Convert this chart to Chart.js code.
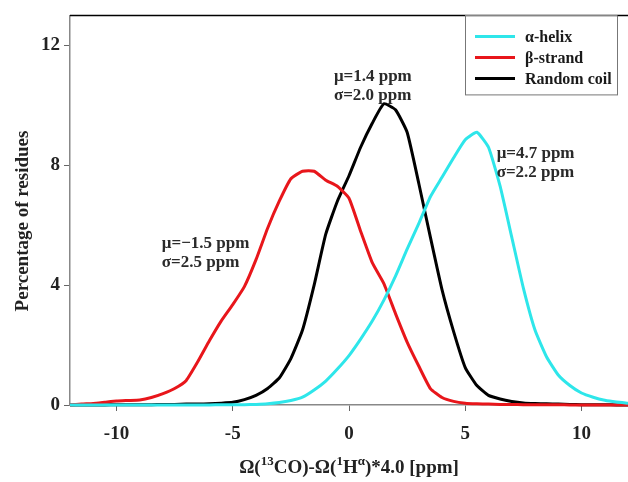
<!DOCTYPE html>
<html lang="en">
<head>
    <meta charset="UTF-8">
    <title>Chemical shift distributions</title>
    <script src="https://cdn.jsdelivr.net/npm/chart.js"></script>
    <style> body { margin: 0; background: #fff; } canvas { display: block; } </style>
</head>
<body>
    <canvas id="shiftChart" width="628" height="482"></canvas>

    <script>
        // x positions in ppm (0.5 ppm steps)
        const shifts = [-12, -11.5, -11, -10.5, -10, -9.5, -9, -8.5, -8, -7.5, -7, -6.5, -6, -5.5, -5, -4.5, -4, -3.5, -3, -2.5, -2, -1.5, -1, -0.5, 0,
                        0.5, 1, 1.5, 2, 2.5, 3, 3.5, 4, 4.5, 5, 5.5, 6, 6.5, 7, 7.5, 8, 8.5, 9, 9.5, 10, 10.5, 11, 11.5, 12];

        const helix = [0, 0, 0, 0, 0, 0, 0, 0, 0, 0, 0, 0, 0, 0.01, 0.01,
                       0.01, 0.02, 0.04, 0.08, 0.15, 0.26, 0.5, 0.8, 1.2, 1.65,
                       2.2, 2.8, 3.5, 4.3, 5.2, 6.05, 6.95, 7.6, 8.25, 8.85,
                       9.1, 8.6, 7.3, 5.6, 3.9, 2.5, 1.6, 1.0, 0.65, 0.4,
                       0.26, 0.16, 0.1, 0.06];

        const strand = [0, 0.03, 0.05, 0.09, 0.13, 0.15, 0.17, 0.25, 0.38, 0.55, 0.82, 1.45, 2.15, 2.8, 3.35,
                        3.95, 4.85, 5.9, 6.8, 7.55, 7.8, 7.8, 7.5, 7.3, 6.9,
                        5.8, 4.75, 4.05, 3.05, 2.1, 1.3, 0.55, 0.25, 0.12, 0.06,
                        0.04, 0.03, 0.02, 0.02, 0.01, 0.01, 0.01, 0.01, 0, 0,
                        0, 0, 0, 0];

        const coil = [0, 0, 0, 0, 0.01, 0.01, 0.01, 0.01, 0.02, 0.02, 0.03, 0.03, 0.04, 0.06, 0.09,
                      0.18, 0.32, 0.55, 0.9, 1.55, 2.5, 4.0, 5.7, 6.8, 7.65,
                      8.6, 9.4, 10.05, 9.85, 9.1, 7.4, 5.6, 3.85, 2.45, 1.25,
                      0.65, 0.32, 0.2, 0.12, 0.07, 0.05, 0.04, 0.03, 0.02, 0.01,
                      0.01, 0.01, 0, 0];

        const xTicks = [-10, -5, 0, 5, 10];
        const yTicks = [0, 4, 8, 12];

        const seriesNames = ['\u03b1-helix', '\u03b2-strand', 'Random coil'];
        const seriesColors = ['#2ee6ea', '#e8161b', '#000000'];

        // text notes: [x, y, line1, line2]
        const notes = [
            [-0.65, 10.8, '\u03bc=1.4 ppm', '\u03c3=2.0 ppm'],
            [6.35, 8.25, '\u03bc=4.7 ppm', '\u03c3=2.2 ppm'],
            [-8.05, 5.25, '\u03bc=\u22121.5 ppm', '\u03c3=2.5 ppm']
        ];

        const serif = "'Liberation Serif', 'Times New Roman', serif";
        const toPoints = ys => shifts.map((x, i) => ({ x: x, y: ys[i] }));

        const extras = {
            id: 'extras',
            afterDraw(chart) {
                const { ctx, chartArea, scales } = chart;
                ctx.save();

                // top frame line
                ctx.strokeStyle = '#000';
                ctx.lineWidth = 1.5;
                ctx.beginPath();
                ctx.moveTo(chartArea.left, chartArea.top);
                ctx.lineTo(chartArea.right, chartArea.top);
                ctx.stroke();

                // notes
                ctx.fillStyle = '#2a2a2a';
                ctx.font = 'bold 17px ' + serif;
                ctx.textBaseline = 'alphabetic';
                notes.forEach(n => {
                    const px = scales.x.getPixelForValue(n[0]);
                    const py = scales.y.getPixelForValue(n[1]);
                    ctx.fillText(n[2], px, py);
                    ctx.fillText(n[3], px, py + 19);
                });

                // legend box
                const bx = 465, by = chartArea.top, bw = 152, bh = 79;
                ctx.fillStyle = '#fff';
                ctx.fillRect(bx, by, bw, bh);
                ctx.strokeStyle = '#777';
                ctx.lineWidth = 1;
                ctx.strokeRect(bx + 0.5, by + 0.5, bw, bh);
                ctx.font = 'bold 16px ' + serif;
                ctx.textBaseline = 'middle';
                chart.data.datasets.forEach((ds, i) => {
                    const ry = by + 21 + i * 21;
                    ctx.strokeStyle = ds.borderColor;
                    ctx.lineWidth = 3;
                    ctx.beginPath();
                    ctx.moveTo(bx + 10, ry);
                    ctx.lineTo(bx + 50, ry);
                    ctx.stroke();
                    ctx.fillStyle = '#1a1a1a';
                    ctx.fillText(ds.label, bx + 60, ry + 1);
                });

                // y axis title
                ctx.font = 'bold 19px ' + serif;
                ctx.fillStyle = '#222';
                ctx.textAlign = 'center';
                ctx.textBaseline = 'middle';
                ctx.translate(23, 221);
                ctx.rotate(-Math.PI / 2);
                ctx.fillText('Percentage of residues', 0, 0);
                ctx.setTransform(1, 0, 0, 1, 0, 0);
                ctx.textAlign = 'left';

                // x axis title with superscripts
                const parts = [['\u03a9(', 0], ['13', 1], ['CO)-\u03a9(', 0], ['1', 1], ['H', 0], ['\u03b1', 1], [')*4.0 [ppm]', 0]];
                const big = 'bold 19px ' + serif, small = 'bold 13px ' + serif;
                let total = 0;
                parts.forEach(p => { ctx.font = p[1] ? small : big; total += ctx.measureText(p[0]).width; });
                let tx = (chartArea.left + chartArea.right) / 2 - total / 2;
                const ty = 473;
                ctx.fillStyle = '#222';
                ctx.textBaseline = 'alphabetic';
                parts.forEach(p => {
                    ctx.font = p[1] ? small : big;
                    ctx.fillText(p[0], tx, p[1] ? ty - 8 : ty);
                    tx += ctx.measureText(p[0]).width;
                });
                ctx.restore();
            }
        };

        new Chart(document.getElementById('shiftChart'), {
            type: 'line',
            data: {
                datasets: [helix, strand, coil].map((ys, i) => ({
                    label: seriesNames[i],
                    data: toPoints(ys),
                    borderColor: seriesColors[i],
                    borderWidth: 3,
                    pointRadius: 0,
                    tension: 0.15,
                    clip: 6
                }))
            },
            options: {
                responsive: false,
                animation: false,
                layout: { padding: { top: 12, right: 0, left: 0, bottom: 0 } },
                plugins: { legend: { display: false }, tooltip: { enabled: false } },
                scales: {
                    x: {
                        type: 'linear', min: -12, max: 12,
                        afterFit: s => { s.height = 77; },
                        afterBuildTicks: s => { s.ticks = xTicks.map(v => ({ value: v })); },
                        grid: { drawOnChartArea: false, tickLength: 6, color: '#666' },
                        border: { color: '#888', width: 1.5 },
                        ticks: { color: '#222', padding: 12, maxRotation: 0, font: { family: serif, size: 19, weight: 'bold' } }
                    },
                    y: {
                        min: 0, max: 13,
                        afterFit: s => { s.width = 70; },
                        afterBuildTicks: s => { s.ticks = yTicks.map(v => ({ value: v })); },
                        grid: { drawOnChartArea: false, tickLength: 6, color: '#666' },
                        border: { color: '#888', width: 1.5 },
                        ticks: { color: '#222', padding: 4, font: { family: serif, size: 19, weight: 'bold' } }
                    }
                }
            },
            plugins: [extras]
        });
    </script>
</body>
</html>
